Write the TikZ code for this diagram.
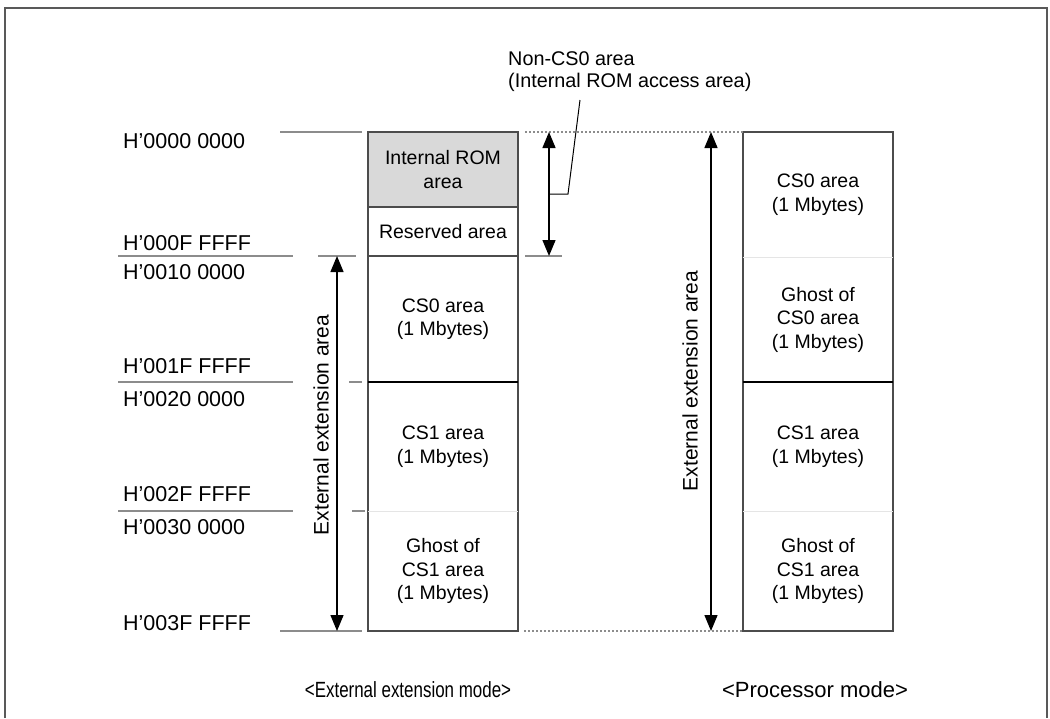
\documentclass[tikz,border=0pt]{standalone}
\usepackage{fontspec}
\setmainfont{Liberation Sans}
\usepackage{xcolor}
\colorlet{colFrame}{black!65}
\colorlet{colBox}{black!70}
\colorlet{colTick}{black!45}
\colorlet{colRom}{black!15}
\colorlet{colGhost}{black!10}
\usepackage{tikz}
\usetikzlibrary{arrows.meta, positioning, calc}

\tikzset{
  addr/.style={anchor=west, font=\fontsize{21.5}{26}\selectfont, inner sep=0pt},
  part/.style={minimum width=150pt, inner sep=0pt, outer sep=0pt, align=center,
    font=\fontsize{19.5}{23.5}\selectfont},
  tick/.style={colTick, line width=1.3pt},
  dotline/.style={colTick, line width=1.2pt, dash pattern=on 2pt off 2pt},
  span/.style={{Triangle[width=13pt,length=16pt]}-{Triangle[width=13pt,length=16pt]}, line width=1.4pt},
  vlabel/.style={rotate=90, font=\fontsize{21}{25}\selectfont, inner sep=0pt},
  mode/.style={font=\fontsize{22}{26}\selectfont}
}

\begin{document}
\begin{tikzpicture}[x=1pt, y=-1pt]
  \useasboundingbox (0,0) rectangle (1050,718);
  \draw[colFrame, line width=2pt] (5,718) -- (5,8) -- (1047,8) -- (1047,718);

  % external extension mode
  \node[part, fill=colRom, minimum height=75pt] (rom) at (443,169.5) {Internal ROM\\area};
  \node[part, minimum height=49pt] (rsv) at (443,231.5) {Reserved area};
  \node[part, minimum height=126pt] (lcs0) at (443,319) {CS0 area\\(1 Mbytes)};
  \node[part, minimum height=129pt] (lcs1) at (443,446.5) {CS1 area\\(1 Mbytes)};
  \node[part, minimum height=120pt] (lgh1) at (443,571) {Ghost of\\CS1 area\\(1 Mbytes)};
  \draw[colBox, line width=1.3pt] (rom.north west) rectangle (lgh1.south east);
  \draw[colBox, line width=1.3pt] (rom.south west) -- (rom.south east);
  \draw[colBox, line width=1.3pt] (rsv.south west) -- (rsv.south east);
  \draw[black, line width=1.3pt] (lcs0.south west) -- (lcs0.south east);
  \draw[colGhost, line width=1pt] (lcs1.south west) -- (lcs1.south east);

  % processor mode
  \node[part, minimum height=125pt] (rcs0) at (818,194.5) {CS0 area\\(1 Mbytes)};
  \node[part, minimum height=125pt] (rgh0) at (818,319.5) {Ghost of\\CS0 area\\(1 Mbytes)};
  \node[part, minimum height=129pt] (rcs1) at (818,446.5) {CS1 area\\(1 Mbytes)};
  \node[part, minimum height=120pt] (rgh1) at (818,571) {Ghost of\\CS1 area\\(1 Mbytes)};
  \draw[colBox, line width=1.3pt] (rcs0.north west) rectangle (rgh1.south east);
  \draw[colGhost, line width=1pt] (rcs0.south west) -- (rcs0.south east);
  \draw[black, line width=1.3pt] (rgh0.south west) -- (rgh0.south east);
  \draw[colGhost, line width=1pt] (rcs1.south west) -- (rcs1.south east);

  % addresses
  \foreach \y/\a in {141/0000 0000, 243/000F FFFF, 272/0010 0000, 366/001F FFFF,
                     399/0020 0000, 494/002F FFFF, 527/0030 0000, 623/003F FFFF}{
    \node[addr] at (123,\y) {H’\a};
  }
  \draw[tick] (280,132) -- (362,132);
  \draw[tick] (280,631) -- (362,631);
  \foreach \y/\s/\e in {256/318/356, 382/349/362, 511/352/365}{
    \draw[tick] (118,\y) -- (293,\y);
    \draw[tick] (\s,\y) -- (\e,\y);
  }
  \draw[tick] (525,256) -- (562,256);
  \draw[dotline] (525,132) -- (rcs0.north west);
  \draw[dotline] (524,631) -- (rgh1.south west);

  % spans
  \coordinate (lTop) at (337,256);
  \coordinate (lBot) at (337,631);
  \coordinate (nTop) at (549,132);
  \coordinate (nBot) at (549,256);
  \coordinate (rTop) at (711,132);
  \coordinate (rBot) at (711,631);
  \draw[span] (lTop) -- (lBot);
  \draw[span] (nTop) -- (nBot);
  \draw[span] (rTop) -- (rBot);
  \node[vlabel] (lext) at (321,425) {External extension area};
  \node[vlabel] (rext) at (690,381) {External extension area};

  \node[anchor=north west, align=left, inner sep=0pt, font=\fontsize{19.8}{22}\selectfont]
    (noncs) at (508,51) {Non-CS0 area\\(Internal ROM access area)};
  \coordinate (nMid) at (549,194);
  \draw[line width=1pt] (nMid) -- (568,194) -- (580,100);

  \node[mode, xscale=0.77, transform shape] (lmode) at (408,690) {<External extension mode>};
  \node[mode] (rmode) at (815,690) {<Processor mode>};
\end{tikzpicture}
\end{document}
